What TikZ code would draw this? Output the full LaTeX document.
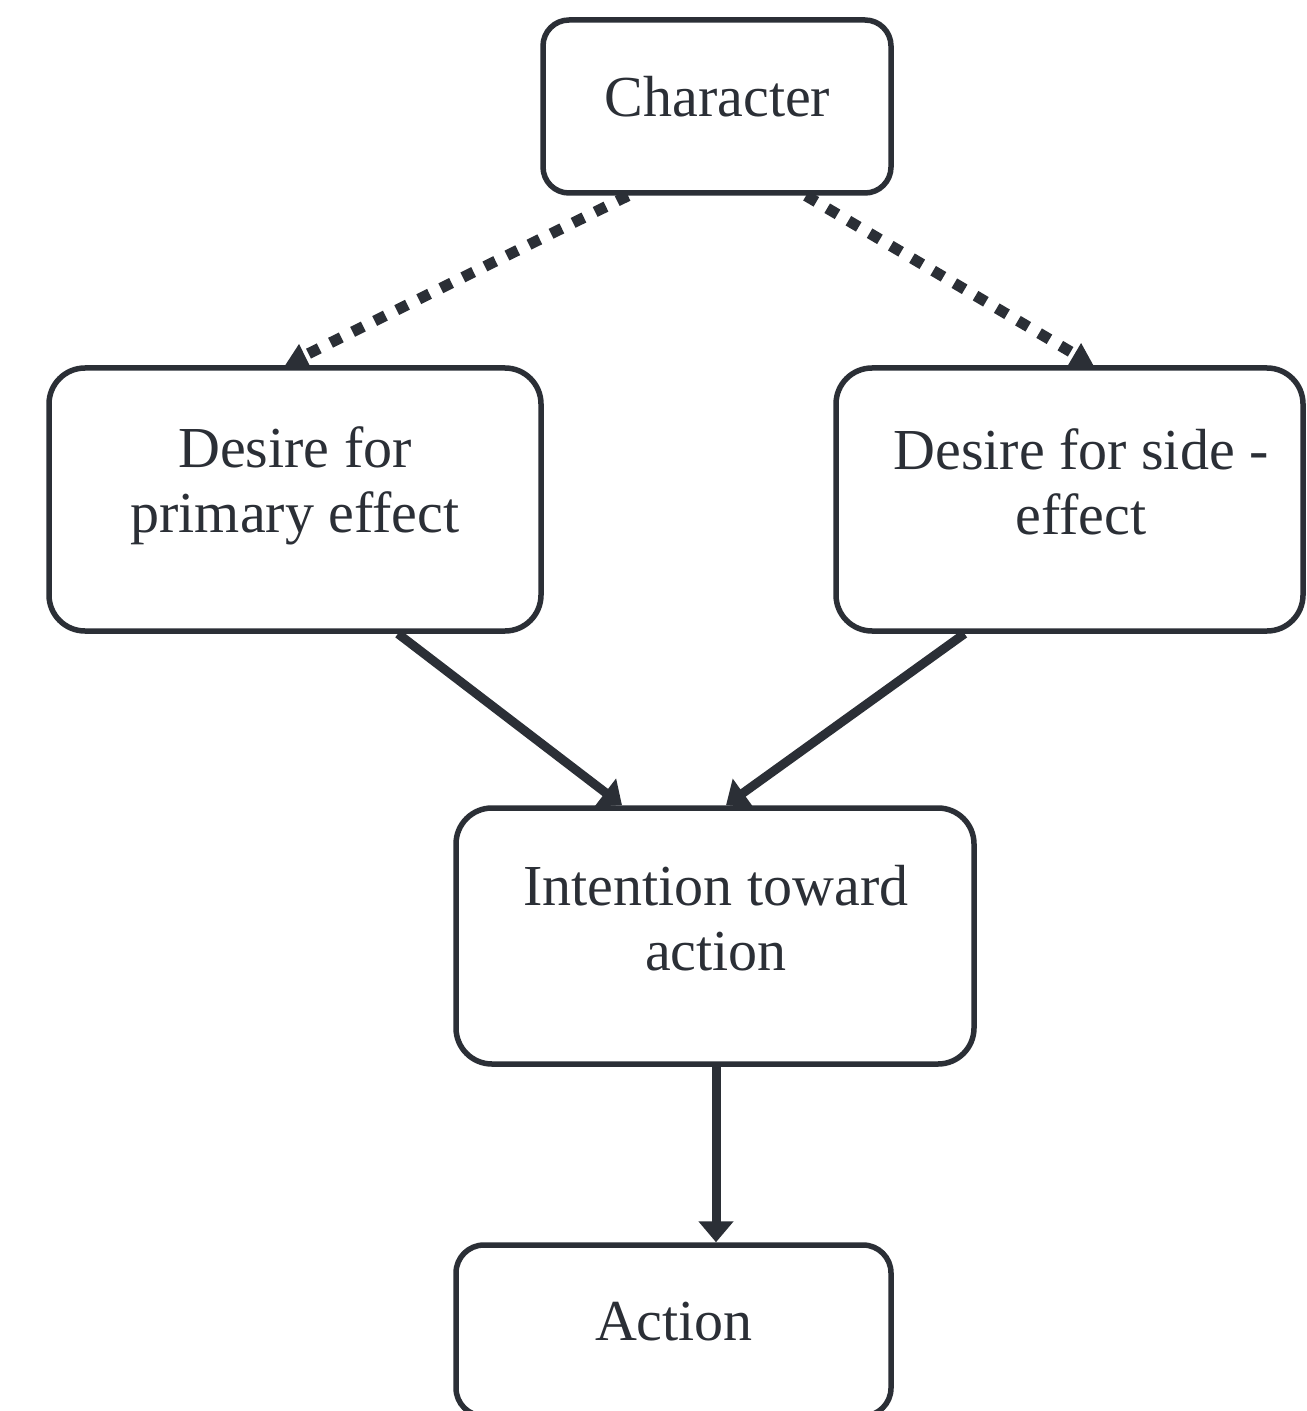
\documentclass[tikz,border=0pt]{standalone}
\usepackage{fontspec}
\setmainfont{Liberation Serif}
\usetikzlibrary{arrows.meta,calc}
\definecolor{ink}{HTML}{2B2F36}
\begin{document}
\begin{tikzpicture}[x=0.5pt,y=-0.5pt,
  box/.style={draw=ink, line width=2.75pt, rectangle, rounded corners=#1, inner sep=0pt, fill=white},
  box/.default=16pt,
  txt/.style={text=ink, align=center, font=\fontsize{29}{32.5}\selectfont, inner sep=0pt},
  dotarrow/.style={draw=ink, line width=5.5pt, dash pattern=on 6pt off 6.3pt, -{Triangle[length=11pt,width=12pt]}},
  solidarrow/.style={draw=ink, line width=4.5pt, -{Triangle[length=10.5pt,width=17pt]}}]
\useasboundingbox (0,0) rectangle (1306,1411);
\clip (0,0) rectangle (1306,1411);
\fill[white] (0,0) rectangle (1306,1411);

% boxes
\node[box=13pt, minimum width=174pt, minimum height=86.5pt] (char) at (717,106.5) {};
\node[box=18pt, minimum width=246pt, minimum height=131.5pt] (prim) at (295,499.5) {};
\node[box=18pt, minimum width=233.5pt, minimum height=131.5pt] (side) at (1069.5,499.5) {};
\node[box=18pt, minimum width=259pt, minimum height=128pt] (inten) at (715,936) {};
\node[box=14pt, minimum width=217.5pt, minimum height=85.5pt] (act) at (673.5,1330.5) {};

% texts
\node[txt] (charT) at (717.5,97) {Character};
\node[txt] (primT) at (295,486) {Desire for\\primary effect};
\node[txt] (sideT) at (1081,482) {Desire for side -\\effect};
\node[txt] (intenT) at (716,918) {Intention toward\\action};
\node[txt] (actT) at (674,1322) {Action};

% connectors
\draw[dotarrow] ($(char.south)+(-89,0)$) -- ($(prim.north)+(-10,0)$);
\draw[dotarrow] ($(char.south)+(89,0)$) -- ($(side.north)+(24,0)$);
\draw[solidarrow] ($(prim.south)+(103,0)$) -- ($(inten.north)+(-93,0)$);
\draw[solidarrow] ($(side.south)+(-105,0)$) -- ($(inten.north)+(11,0)$);
\coordinate (vtop) at ($(inten.south)+(1,0)$);
\draw[solidarrow] (vtop) -- (vtop |- act.north);
\end{tikzpicture}
\end{document}
